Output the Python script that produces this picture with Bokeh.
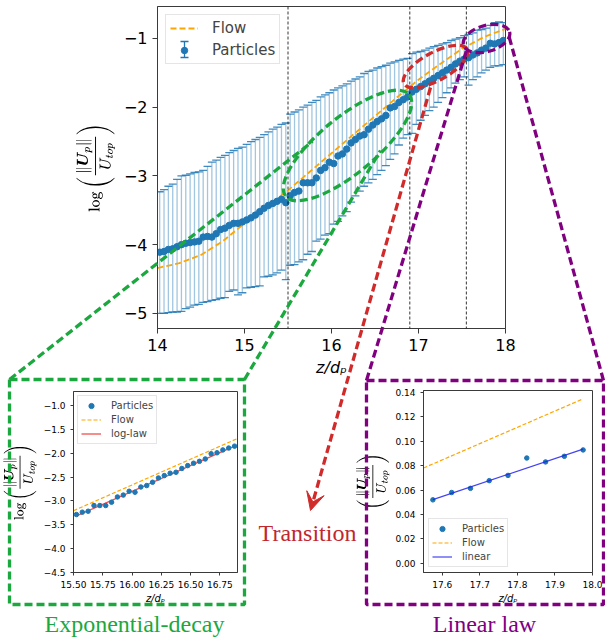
import numpy as np
from bokeh.plotting import figure
from bokeh.models import (Range1d, FixedTicker, CustomJSTickFormatter, Span, Legend,
                          LegendItem, Label, Arrow, VeeHead, TeX, ColumnDataSource)
from bokeh.embed import file_html
from bokeh.resources import INLINE

W, H = 605, 638

# ---------------- particle velocity profile (log10 of |U_p| / U_top) ----------------
z = np.round(14.025 + 0.05 * np.arange(80), 3)
p_mean = [
    -4.11, -4.10, -4.07, -4.06, -4.03, -4.00, -3.98, -3.97, -3.96, -3.95,
    -3.89, -3.88, -3.89, -3.84, -3.78, -3.76, -3.72, -3.69, -3.69, -3.67,
    -3.64, -3.61, -3.57, -3.52, -3.47, -3.43, -3.40, -3.37, -3.34, -3.39,
    -3.29, -3.24, -3.22, -3.10, -3.10, -3.10, -3.03, -2.92, -2.88, -2.80,
    -2.82, -2.71, -2.68, -2.61, -2.52, -2.47, -2.42, -2.40, -2.32, -2.26,
    -2.21, -2.17, -2.12, -2.01, -1.99, -1.93, -1.89, -1.85,
    -1.78, -1.74, -1.70, -1.66, -1.62, -1.58, -1.54, -1.50, -1.46, -1.42,
    -1.37, -1.33, -1.30,
    -1.28, -1.24, -1.21, -1.17, -1.14, -1.07, -1.08, -1.06, -1.03,
]
p_upper = [
    -3.23, -3.20, -3.15, -3.12, -3.05, -3.00, -2.99, -2.97, -2.95, -2.94,
    -2.92, -2.86, -2.80, -2.77, -2.73, -2.70, -2.66, -2.63, -2.60, -2.58,
    -2.54, -2.50, -2.47, -2.44, -2.40, -2.36, -2.32, -2.29, -2.25, -2.23,
    -2.10, -2.07, -2.04, -2.00, -1.97, -1.93, -1.90, -1.85, -1.82, -1.79,
    -1.75, -1.72, -1.69, -1.66, -1.62, -1.59, -1.56, -1.51, -1.48, -1.46,
    -1.43, -1.41, -1.39, -1.36, -1.34, -1.32, -1.30, -1.29,
    -1.22, -1.20, -1.19, -1.17, -1.14, -1.12, -1.10, -1.08, -1.06, -1.03,
    -1.01, -0.99, -0.96,
    -0.94, -0.92, -0.88, -0.87, -0.85, -0.81, -0.77, -0.76, -0.77,
]
p_lower = [
    -5.00, -5.00, -4.99, -4.98, -4.98, -4.97, -4.93, -4.91, -4.88, -4.87,
    -4.84, -4.83, -4.81, -4.80, -4.78, -4.77, -4.68, -4.66, -4.73, -4.70,
    -4.63, -4.62, -4.61, -4.60, -4.47, -4.46, -4.44, -4.41, -4.37, -4.51,
    -4.30, -4.29, -4.25, -4.22, -4.14, -4.10, -3.95, -3.92, -3.86, -3.84,
    -3.70, -3.66, -3.58, -3.52, -3.38, -3.29, -3.22, -3.15, -3.10, -3.05,
    -2.98, -2.92, -2.85, -2.76, -2.68, -2.55, -2.45, -2.40,
    -2.38, -2.25, -2.19, -2.12, -2.05, -2.00, -1.93, -1.86, -1.79, -1.72,
    -1.65, -1.60, -1.56,
    -1.68, -1.60, -1.56, -1.50, -1.46, -1.42, -1.40, -1.40, -1.38,
]
z_flow = [14.0, 14.25, 14.5, 14.75, 15.0, 15.25, 15.5, 15.75, 16.0,
          16.25, 16.5, 16.75, 17.0, 17.25, 17.5, 17.75, 18.0]
flow = [-4.34, -4.27, -4.15, -3.95, -3.69, -3.45, -3.21, -2.94, -2.67,
        -2.40, -2.13, -1.86, -1.60, -1.37, -1.15, -0.98, -0.86]
z_regimes = [15.5, 16.9, 17.55]

# ---------------- exponential-decay zone ----------------
z_exp = [15.525, 15.575, 15.625, 15.675, 15.725, 15.775, 15.825, 15.875, 15.925, 15.975,
         16.025, 16.075, 16.125, 16.175, 16.225, 16.275, 16.325, 16.375, 16.425, 16.475,
         16.525, 16.575, 16.625, 16.675, 16.725, 16.775, 16.825, 16.875]
exp_particles = [-3.29, -3.24, -3.22, -3.10, -3.10, -3.10, -3.03, -2.92, -2.88, -2.80,
                 -2.82, -2.71, -2.68, -2.61, -2.52, -2.47, -2.42, -2.40, -2.32, -2.26,
                 -2.21, -2.17, -2.12, -2.01, -1.99, -1.93, -1.89, -1.85]
z_exp_flow = [15.5, 16.9]
exp_flow = [-3.21, -1.69]
z_exp_fit = [15.525, 16.875]
exp_fit = [-3.32, -1.85]

# ---------------- linear-law zone ----------------
z_lin = [17.575, 17.625, 17.675, 17.725, 17.775, 17.825, 17.875, 17.925, 17.975]
lin_particles = [0.052, 0.058, 0.0614, 0.0677, 0.072, 0.0862, 0.083, 0.0876, 0.0928]
z_lin_flow = [17.55, 17.975]
lin_flow = [0.078, 0.1346]
z_lin_fit = [17.575, 17.975]
lin_fit = [0.0522, 0.0935]

BLUE = "#1f77b4"
ORANGE = "#ffa500"
GREEN = "#1ba83e"
RED = "#d12a2a"
PURPLE = "#800080"
SERIF = "Liberation Serif"
SANS = "DejaVu Sans"
STACK = {"position": "absolute", "left": "0px", "top": "0px"}


def minus_fmt(digits):
    return CustomJSTickFormatter(
        code=f"return tick.toFixed({digits}).replace('-', '\\u2212');")


def style(fig, tick_size, tick_len, xticks, yticks, xdig, ydig):
    fig.xaxis.ticker = FixedTicker(ticks=xticks)
    fig.yaxis.ticker = FixedTicker(ticks=yticks)
    fig.xaxis.formatter = minus_fmt(xdig)
    fig.yaxis.formatter = minus_fmt(ydig)
    for ax in (fig.xaxis[0], fig.yaxis[0]):
        ax.major_label_text_font = SANS
        ax.major_label_text_font_size = tick_size
        ax.major_label_text_color = "black"
        ax.axis_line_color = "#3a3a3a"
        ax.major_tick_line_color = "#3a3a3a"
        ax.major_tick_out = tick_len
        ax.major_tick_in = 0
        ax.minor_tick_line_color = None
        ax.axis_label_text_color = "black"
    fig.grid.visible = False
    fig.outline_line_color = "#3a3a3a"


def canvas_fig(**kw):
    f = figure(width=W, height=H, output_backend="svg", toolbar_location=None,
               styles=STACK, **kw)
    f.border_fill_color = None
    f.background_fill_color = None
    return f


U_LOG = r"\log\left(\frac{\|\boldsymbol{U}_p\|}{U_{top}}\right)"
U_RATIO = r"\left(\frac{\|\boldsymbol{U}_p\|}{U_{top}}\right)"

# ================= main profile =================
main = figure(width=W, height=H, x_range=Range1d(14, 18), y_range=Range1d(-5.22, -0.535),
              output_backend="svg", toolbar_location=None, styles=STACK,
              min_border_left=157, min_border_right=100, min_border_top=6,
              min_border_bottom=310)
main.border_fill_color = "white"
style(main, "16px", 5, [14, 15, 16, 17, 18], [-5, -4, -3, -2, -1], 0, 0)
main.xaxis.axis_label = "z/dₚ"
main.xaxis.axis_label_text_font = SANS
main.xaxis.axis_label_text_font_style = "italic"
main.xaxis.axis_label_text_font_size = "16px"
main.xaxis.axis_label_standoff = 4
main.yaxis.axis_label = TeX(text=U_LOG)
main.yaxis.axis_label_text_font_size = "12.5px"
main.yaxis.axis_label_standoff = 6

src = ColumnDataSource(dict(z=z, mean=p_mean, up=p_upper, lo=p_lower))
main.segment(x0="z", y0="lo", x1="z", y1="up", source=src,
             line_color=BLUE, line_alpha=0.42, line_width=1.3)
main.scatter(x="z", y="up", source=src, marker="dash", size=8,
             line_color=BLUE, line_alpha=0.85, line_width=1.3)
main.scatter(x="z", y="lo", source=src, marker="dash", size=8,
             line_color=BLUE, line_alpha=0.85, line_width=1.3)
for zr in z_regimes:
    main.add_layout(Span(location=zr, dimension="height", line_color="black",
                         line_dash="3 2", line_width=0.8))
flow_r = main.line(z_flow, flow, line_color=ORANGE, line_dash="6 3", line_width=1.8)
pts_r = main.scatter(x="z", y="mean", source=src, size=6.5, fill_color=BLUE,
                     line_color=BLUE)
leg = Legend(items=[LegendItem(label="Flow", renderers=[flow_r]),
                    LegendItem(label="Particles", renderers=[pts_r])],
             location="top_left", margin=8, padding=4, spacing=4,
             label_text_font=SANS, label_text_font_size="15px",
             glyph_width=28, glyph_height=16, label_height=18, label_standoff=14,
             border_line_color="#cccccc", border_line_width=1,
             background_fill_alpha=0.9)
main.add_layout(leg)

# ================= exponential-decay inset =================
ins1 = canvas_fig(x_range=Range1d(15.5, 16.9), y_range=Range1d(-4.51, -0.70),
                  min_border_left=69, min_border_right=368, min_border_top=391,
                  min_border_bottom=66)
ins1.background_fill_color = "white"
style(ins1, "9px", 3, [15.5, 15.75, 16.0, 16.25, 16.5, 16.75],
      [-4.5, -4.0, -3.5, -3.0, -2.5, -2.0, -1.5, -1.0], 2, 1)
ins1.xaxis.axis_label = "z/dₚ"
ins1.xaxis.axis_label_text_font = SANS
ins1.xaxis.axis_label_text_font_style = "italic"
ins1.xaxis.axis_label_text_font_size = "10px"
ins1.xaxis.axis_label_standoff = 2
ins1.yaxis.axis_label = TeX(text=U_LOG)
ins1.yaxis.axis_label_text_font_size = "10px"
ins1.yaxis.axis_label_standoff = 4
e_flow = ins1.line(z_exp_flow, exp_flow, line_color=ORANGE, line_dash="4 2", line_width=1.2)
e_fit = ins1.line(z_exp_fit, exp_fit, line_color="#ee2222", line_alpha=0.8, line_width=1.3)
e_pts = ins1.scatter(z_exp, exp_particles, size=4.5, color=BLUE)
ins1.add_layout(Legend(items=[LegendItem(label="Particles", renderers=[e_pts]),
                              LegendItem(label="Flow", renderers=[e_flow]),
                              LegendItem(label="log-law", renderers=[e_fit])],
                       location="top_left", margin=4, padding=3, spacing=1,
                       label_text_font=SANS, label_text_font_size="10px",
                       glyph_width=20, glyph_height=13, label_height=13,
                       label_standoff=10, border_line_color="#cccccc",
                       background_fill_alpha=0.9))

# ================= linear-law inset =================
ins2 = canvas_fig(x_range=Range1d(17.55, 18.0), y_range=Range1d(-0.0074, 0.1414),
                  min_border_left=423, min_border_right=13, min_border_top=390,
                  min_border_bottom=66)
ins2.background_fill_color = "white"
style(ins2, "9px", 3, [17.6, 17.7, 17.8, 17.9, 18.0],
      [0.0, 0.02, 0.04, 0.06, 0.08, 0.10, 0.12, 0.14], 1, 2)
ins2.xaxis.axis_label = "z/dₚ"
ins2.xaxis.axis_label_text_font = SANS
ins2.xaxis.axis_label_text_font_style = "italic"
ins2.xaxis.axis_label_text_font_size = "10px"
ins2.xaxis.axis_label_standoff = 2
ins2.yaxis.axis_label = TeX(text=U_RATIO)
ins2.yaxis.axis_label_text_font_size = "10.5px"
ins2.yaxis.axis_label_standoff = 3
l_pts = ins2.scatter(z_lin, lin_particles, size=4.5, color=BLUE)
l_flow = ins2.line(z_lin_flow, lin_flow, line_color=ORANGE, line_dash="4 2", line_width=1.2)
l_fit = ins2.line(z_lin_fit, lin_fit, line_color="#2222ee", line_alpha=0.85, line_width=1.2)
ins2.add_layout(Legend(items=[LegendItem(label="Particles", renderers=[l_pts]),
                              LegendItem(label="Flow", renderers=[l_flow]),
                              LegendItem(label="linear", renderers=[l_fit])],
                       location="bottom_left", margin=5, padding=3, spacing=1,
                       label_text_font=SANS, label_text_font_size="10px",
                       glyph_width=20, glyph_height=13, label_height=13,
                       label_standoff=10, border_line_color="#cccccc",
                       background_fill_alpha=0.9))

# ================= callouts drawn over the whole page (page pixels) =================
over = canvas_fig(x_range=Range1d(0, W), y_range=Range1d(0, H),
                  x_axis_type=None, y_axis_type=None, min_border=0)
over.outline_line_color = None
over.grid.visible = False


def up(y):
    return [H - v for v in y] if isinstance(y, list) else H - y


# error-bar key for the "Particles" legend entry (bar with caps through the dot)
over.segment(x0=[184], y0=[up(41)], x1=[184], y1=[up(57)],
             line_color=BLUE, line_width=1.3)
over.segment(x0=[180, 180], y0=up([41, 57]), x1=[188, 188], y1=up([41, 57]),
             line_color=BLUE, line_width=1.3)

DASH = "8 4"
LW = 3.3
# regime ellipses
over.ellipse(x=[347], y=[up(145)], width=160, height=56, angle=np.deg2rad(39.5),
             fill_color=None, line_color=GREEN, line_width=LW, line_dash=DASH)
over.ellipse(x=[435], y=[up(66)], width=72, height=28, angle=np.deg2rad(28.8),
             fill_color=None, line_color=RED, line_width=LW, line_dash=DASH)
over.ellipse(x=[486], y=[up(38)], width=48, height=26, angle=np.deg2rad(16),
             fill_color=None, line_color=PURPLE, line_width=LW, line_dash=DASH)

# zoom frames and their leader lines
over.line([9, 244, 244, 9, 9], up([379, 379, 604, 604, 379]),
          line_color=GREEN, line_width=LW, line_dash=DASH)
over.line([9, 312], up([379, 141]), line_color=GREEN, line_width=LW, line_dash=DASH)
over.line([244, 380], up([379, 150]), line_color=GREEN, line_width=LW, line_dash=DASH)
over.line([366, 603, 603, 366, 366], up([380, 380, 604, 604, 380]),
          line_color=PURPLE, line_width=LW, line_dash=DASH)
over.line([366, 466], up([380, 50]), line_color=PURPLE, line_width=LW, line_dash=DASH)
over.line([603, 508], up([380, 34]), line_color=PURPLE, line_width=LW, line_dash=DASH)
over.add_layout(Arrow(x_start=430, y_start=up(87), x_end=310, y_end=up(510),
                      line_color=RED, line_width=LW, line_dash=DASH,
                      end=VeeHead(size=18, fill_color=RED, line_color=RED, line_width=1)))

over.add_layout(Label(x=307, y=up(532), text="Transition", text_align="center",
                      text_baseline="middle", text_font=SERIF, text_font_size="24px",
                      text_color="#c1272d"))
over.add_layout(Label(x=134, y=up(623), text="Exponential-decay", text_align="center",
                      text_baseline="middle", text_font=SERIF, text_font_size="24px",
                      text_color=GREEN))
over.add_layout(Label(x=484, y=up(623), text="Linear law", text_align="center",
                      text_baseline="middle", text_font=SERIF, text_font_size="24px",
                      text_color=PURPLE))

# the four layers share the page's top-left corner and stack in this order
open("out.html", "w").write(file_html([main, ins1, ins2, over], INLINE))
